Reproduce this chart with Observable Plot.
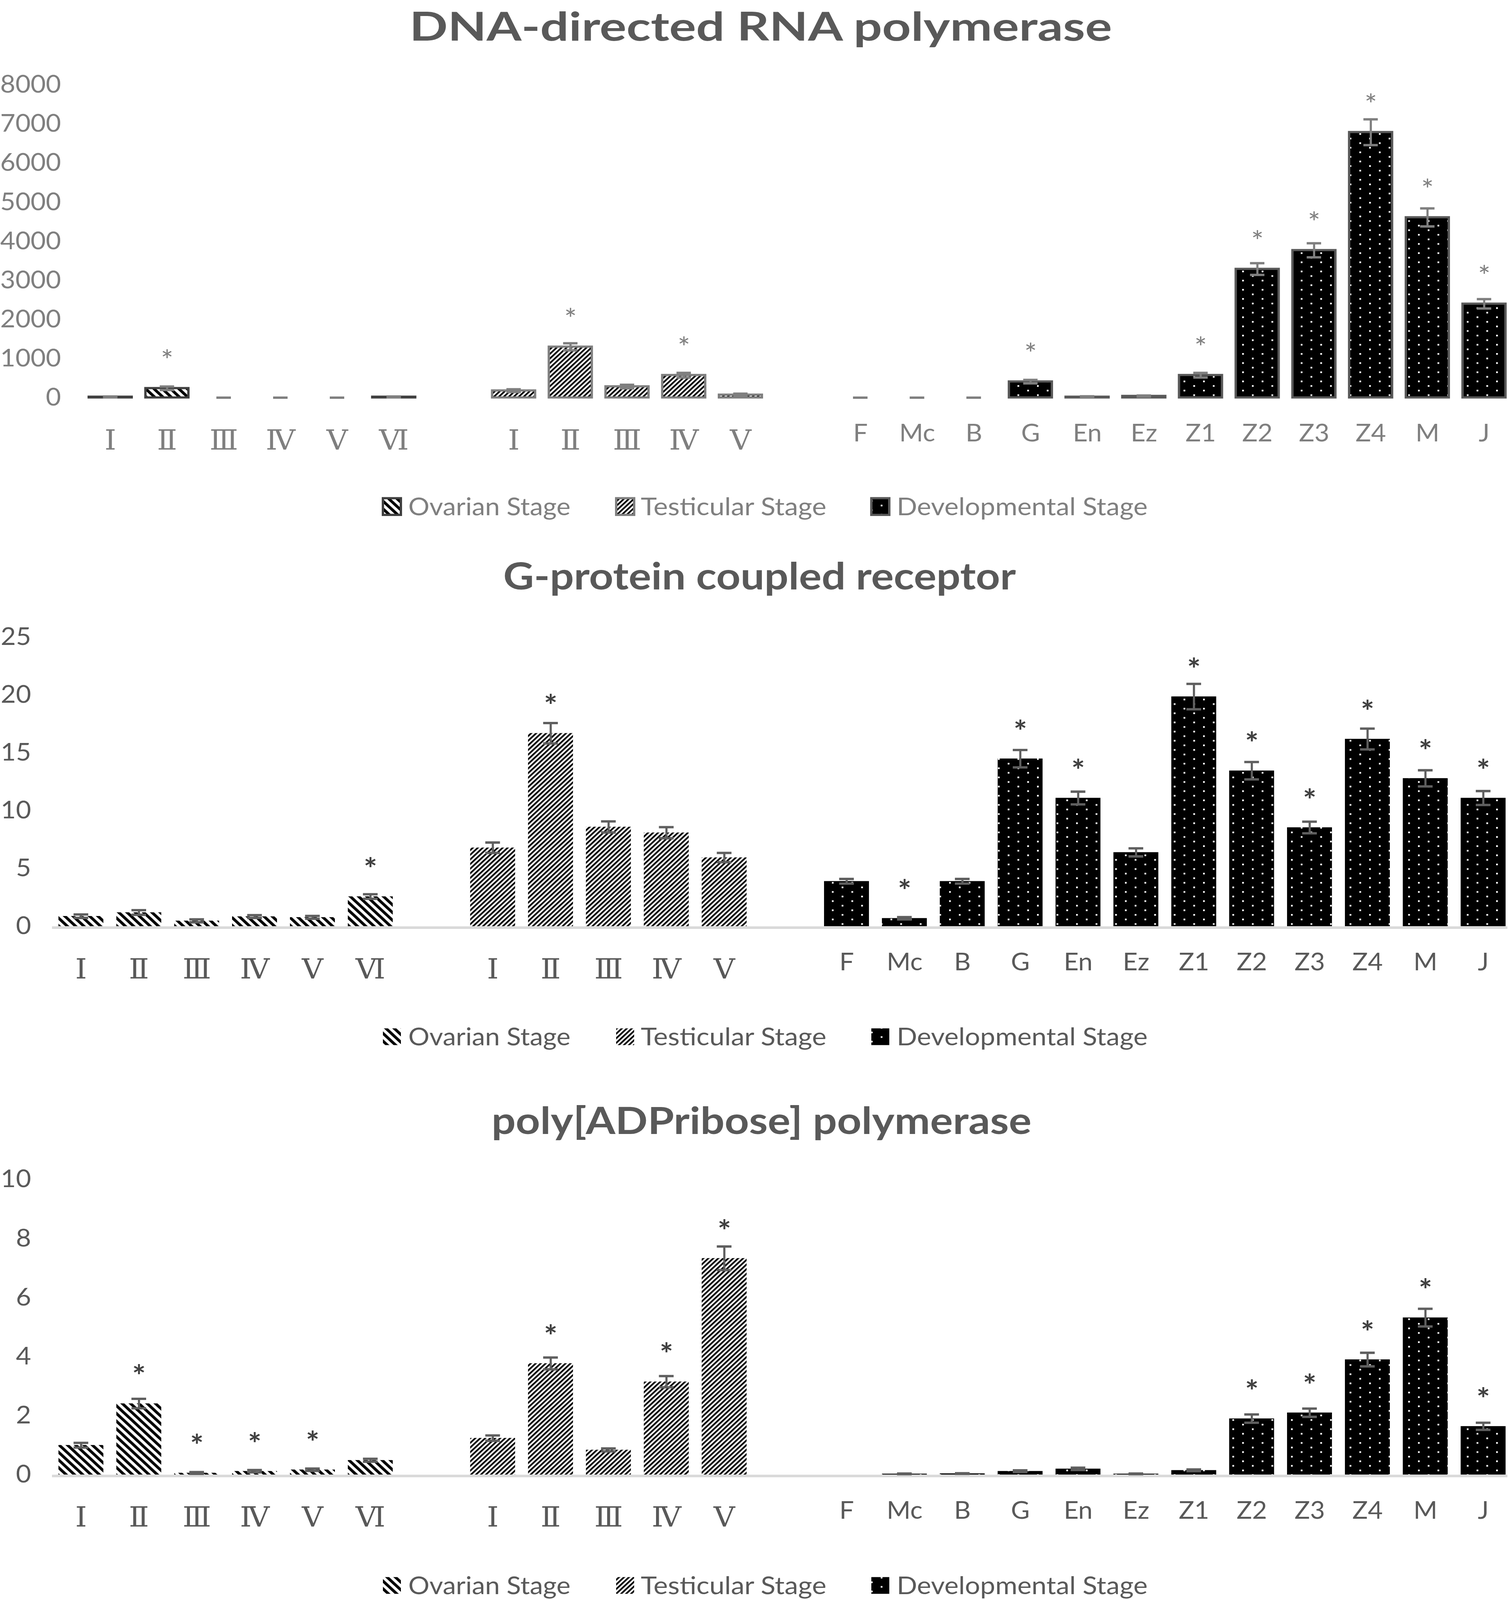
<!DOCTYPE html>
<html>
<head>
<meta charset="utf-8">
<script src="https://cdn.jsdelivr.net/npm/d3@7"></script>
<script src="https://cdn.jsdelivr.net/npm/@observablehq/plot@0.6"></script>
<style>
  html, body { margin: 0; padding: 0; background: #fff; overflow: hidden; }
  #wrap { position: relative; width: 3862px; overflow: hidden; background: #fff; }
  #page { position: relative; width: 3862px; height: 4400px; background: #fff; overflow: hidden; transform-origin: 0 0; }
</style>
</head>
<body>
<div id="wrap"><div id="page"></div></div>
<script>
// ---------------- DATA ----------------
const ovarianStages = ["Ⅰ", "Ⅱ", "Ⅲ", "Ⅳ", "Ⅴ", "Ⅵ"];
const testicularStages = ["Ⅰ", "Ⅱ", "Ⅲ", "Ⅳ", "Ⅴ"];
const developmentalStages = ["F", "Mc", "B", "G", "En", "Ez", "Z1", "Z2", "Z3", "Z4", "M", "J"];
const seriesNames = ["Ovarian Stage", "Testicular Stage", "Developmental Stage"];

// Panel 1: DNA-directed RNA polymerase
const rnaTitle = "DNA-directed RNA polymerase";
const rnaTicks = [0, 1000, 2000, 3000, 4000, 5000, 6000, 7000, 8000];
const rnaOvarian = [20, 240, 0, 0, 0, 20];
const rnaOvarianErr = [10, 45, 0, 0, 0, 10];
const rnaOvarianStar = ["", "*", "", "", "", ""];
const rnaTesticular = [180, 1300, 285, 575, 72];
const rnaTesticularErr = [35, 90, 45, 60, 30];
const rnaTesticularStar = ["", "*", "", "*", ""];
const rnaDevelopmental = [0, 0, 0, 410, 20, 40, 575, 3290, 3770, 6790, 4610, 2400];
const rnaDevelopmentalErr = [0, 0, 0, 45, 15, 15, 60, 150, 180, 330, 230, 120];
const rnaDevelopmentalStar = ["", "", "", "*", "", "", "*", "*", "*", "*", "*", "*"];

// Panel 2: G-protein coupled receptor
const gpcrTitle = "G-protein coupled receptor";
const gpcrTicks = [0, 5, 10, 15, 20, 25];
const gpcrOvarian = [0.88, 1.2, 0.48, 0.85, 0.78, 2.58];
const gpcrOvarianErr = [0.15, 0.2, 0.13, 0.12, 0.12, 0.2];
const gpcrOvarianStar = ["", "", "", "", "", "*"];
const gpcrTesticular = [6.8, 16.7, 8.6, 8.1, 5.95];
const gpcrTesticularErr = [0.45, 0.88, 0.48, 0.48, 0.4];
const gpcrTesticularStar = ["", "*", "", "", ""];
const gpcrDevelopmental = [3.9, 0.7, 3.9, 14.5, 11.1, 6.4, 19.87, 13.46, 8.55, 16.2, 12.8, 11.1];
const gpcrDevelopmentalErr = [0.2, 0.1, 0.2, 0.75, 0.55, 0.35, 1.1, 0.75, 0.5, 0.9, 0.7, 0.6];
const gpcrDevelopmentalStar = ["", "*", "", "*", "*", "", "*", "*", "*", "*", "*", "*"];

// Panel 3: poly[ADPribose] polymerase
const parpTitle = "poly[ADPribose] polymerase";
const parpTicks = [0, 2, 4, 6, 8, 10];
const parpOvarian = [1.0, 2.41, 0.06, 0.12, 0.17, 0.49];
const parpOvarianErr = [0.08, 0.16, 0.03, 0.04, 0.04, 0.05];
const parpOvarianStar = ["", "*", "*", "*", "*", ""];
const parpTesticular = [1.24, 3.77, 0.84, 3.15, 7.33];
const parpTesticularErr = [0.09, 0.2, 0.05, 0.19, 0.4];
const parpTesticularStar = ["", "*", "", "*", "*"];
const parpDevelopmental = [0, 0.03, 0.04, 0.12, 0.2, 0.03, 0.15, 1.9, 2.1, 3.9, 5.32, 1.64];
const parpDevelopmentalErr = [null, 0.01, 0.01, 0.03, 0.04, 0.01, 0.03, 0.14, 0.14, 0.23, 0.3, 0.12];
const parpDevelopmentalStar = ["", "", "", "", "", "", "", "*", "*", "*", "*", "*"];

// ---------------- LAYOUT ----------------
const W = 3862, H = 4400;
// fit the whole figure into the visible window height if the window is shorter than the figure
const VIEW_H = window.innerHeight || H;
const FIT = Math.min(1, VIEW_H / H);
document.getElementById("wrap").style.height = (H * FIT) + "px";
document.getElementById("page").style.transform = `scaleY(${FIT})`;

const GAP = 2.114; // distance (in bar slots) between the last bar of one group and the first of the next
const groupLabels = [ovarianStages, testicularStages, developmentalStages];
const groupOffsets = [
  0,
  (ovarianStages.length - 1) + GAP,
  (ovarianStages.length - 1) + GAP + (testicularStages.length - 1) + GAP
];
const X_DOMAIN = [-0.5, groupOffsets[2] + developmentalStages.length - 1 + 0.42];
const ROMAN_FONT = "'DejaVu Serif', 'Liberation Serif', serif";

const page = d3.select("#page");
const overlay = page.append("svg")
  .attr("width", W).attr("height", H)
  .style("position", "absolute").style("left", "0px").style("top", "0px");
const defs = overlay.append("defs");

function stripePattern(id, angle, period, band) {
  const p = defs.append("pattern").attr("id", id)
    .attr("patternUnits", "userSpaceOnUse")
    .attr("width", period).attr("height", period)
    .attr("patternTransform", `rotate(${angle})`);
  p.append("rect").attr("width", period).attr("height", period).attr("fill", "#fff");
  p.append("rect").attr("width", band).attr("height", period).attr("fill", "#000");
}
stripePattern("pat-ov", -45, 15, 7.5);
stripePattern("pat-te", 45, 9, 4.5);
{
  const p = defs.append("pattern").attr("id", "pat-dev")
    .attr("patternUnits", "userSpaceOnUse").attr("width", 50).attr("height", 25.2);
  p.append("rect").attr("width", 50).attr("height", 25.2).attr("fill", "#000");
  p.append("rect").attr("x", 4).attr("y", 2).attr("width", 4.5).attr("height", 4.5).attr("fill", "#fff");
  p.append("rect").attr("x", 29).attr("y", 14.6).attr("width", 4.5).attr("height", 4.5).attr("fill", "#fff");
}
const patterns = ["url(#pat-ov)", "url(#pat-te)", "url(#pat-dev)"];

function buildRows(groups) {
  const rows = [];
  groups.forEach((g, gi) => {
    g.values.forEach((v, i) => {
      rows.push({
        group: gi,
        label: groupLabels[gi][i],
        pos: groupOffsets[gi] + i,
        value: v,
        err: g.err[i],
        star: g.star[i]
      });
    });
  });
  return rows;
}

function drawPanel(cfg) {
  const rows = buildRows(cfg.groups);
  const labelByPos = new Map(rows.map(d => [d.pos, d.label]));
  const romanPos = rows.filter(d => d.group < 2).map(d => d.pos);
  const devPos = rows.filter(d => d.group === 2).map(d => d.pos);
  const withErr = rows.filter(d => d.err != null);
  const cap = 0.127;
  const marks = [];
  if (cfg.baseline) {
    marks.push(Plot.ruleY([0], {stroke: "#d9d9d9", strokeWidth: 7, dy: 3.5}));
  }
  [0, 1, 2].forEach(g => {
    marks.push(Plot.rectY(rows.filter(d => d.group === g && d.value > 0), {
      x1: d => d.pos - cfg.half,
      x2: d => d.pos + cfg.half,
      y1: 0,
      y2: "value",
      fill: patterns[g],
      stroke: cfg.outlines ? cfg.outlines[g] : "none",
      strokeWidth: cfg.outlines ? 6 : 0
    }));
  });
  marks.push(Plot.ruleX(withErr, {
    x: "pos",
    y1: d => Math.max(0, d.value - d.err),
    y2: d => d.value + d.err,
    stroke: cfg.errColor, strokeWidth: 5.5
  }));
  marks.push(Plot.ruleY(withErr, {
    y: d => d.value + d.err,
    x1: d => d.pos - cap, x2: d => d.pos + cap,
    stroke: cfg.errColor, strokeWidth: 6.5
  }));
  marks.push(Plot.ruleY(withErr, {
    y: d => Math.max(0, d.value - d.err),
    x1: d => d.pos - cap, x2: d => d.pos + cap,
    stroke: cfg.errColor, strokeWidth: 6.5
  }));
  marks.push(Plot.text(rows.filter(d => d.star), {
    x: "pos", y: "value", text: "star",
    lineAnchor: "bottom", dy: -92 + 0.5625 * cfg.starSize,
    fontSize: cfg.starSize, fontFamily: "Lato, sans-serif", fontWeight: cfg.starWeight,
    fill: cfg.starColor
  }));
  marks.push(Plot.axisY({
    ticks: cfg.ticks, tickSize: 0, tickPadding: 54, label: null,
    tickFormat: d => `${d}`, fontSize: 67, color: cfg.textColor
  }));
  marks.push(Plot.axisX({
    ticks: romanPos, tickSize: 0, tickPadding: 89, label: null,
    tickFormat: p => labelByPos.get(p),
    fontSize: 76, fontFamily: ROMAN_FONT,
    color: cfg.textColor
  }));
  marks.push(Plot.axisX({
    ticks: devPos, tickSize: 0, tickPadding: 74, label: null,
    tickFormat: p => labelByPos.get(p),
    fontSize: 66, color: cfg.textColor
  }));

  const chart = Plot.plot({
    width: W,
    height: cfg.height,
    marginLeft: cfg.ml, marginRight: cfg.mr, marginTop: cfg.mt, marginBottom: cfg.mb,
    x: {type: "linear", domain: X_DOMAIN, label: null},
    y: {domain: [0, cfg.ticks[cfg.ticks.length - 1]], label: null},
    style: {fontFamily: "Lato, sans-serif", fontSize: "67px", color: cfg.textColor, background: "transparent", overflow: "visible"},
    marks
  });
  d3.select(chart).selectAll("text")
    .filter(function() { return /^[\u2160-\u216B]$/.test(this.textContent); })
    .style("font-family", ROMAN_FONT);
  chart.style.position = "absolute";
  chart.style.left = "0px";
  chart.style.top = cfg.top + "px";
  page.node().appendChild(chart);

  // title
  overlay.append("text")
    .attr("x", cfg.titleX).attr("y", cfg.titleY)
    .attr("text-anchor", "middle")
    .attr("font-family", "Lato, sans-serif").attr("font-weight", 700)
    .attr("font-size", cfg.titleSize).attr("fill", "#595959")
    .attr("textLength", cfg.titleW).attr("lengthAdjust", "spacingAndGlyphs")
    .text(cfg.title);

  // legend
  const swX = [980, 1577, 2230];
  const txX = [1045, 1640, 2295];
  const txW = [415, 475, 642];
  seriesNames.forEach((name, i) => {
    overlay.append("rect")
      .attr("x", swX[i]).attr("y", cfg.legendY - 23).attr("width", 46).attr("height", 46)
      .attr("fill", patterns[i])
      .attr("stroke", cfg.outlines ? cfg.outlines[i] : "none")
      .attr("stroke-width", cfg.outlines ? 6 : 0);
    overlay.append("text")
      .attr("x", txX[i]).attr("y", cfg.legendY + 24)
      .attr("font-family", "Lato, sans-serif").attr("font-size", 66)
      .attr("fill", cfg.textColor)
      .attr("textLength", txW[i]).attr("lengthAdjust", "spacingAndGlyphs")
      .text(name);
  });
}

drawPanel({
  title: rnaTitle, titleX: 1947, titleY: 112, titleSize: 110, titleW: 1798,
  top: 150, height: 1130, mt: 83, mb: 187, ml: 209.5, mr: 3,
  half: 0.379, ticks: rnaTicks,
  groups: [
    {values: rnaOvarian, err: rnaOvarianErr, star: rnaOvarianStar},
    {values: rnaTesticular, err: rnaTesticularErr, star: rnaTesticularStar},
    {values: rnaDevelopmental, err: rnaDevelopmentalErr, star: rnaDevelopmentalStar}
  ],
  outlines: ["#404040", "#7f7f7f", "#595959"],
  baseline: false,
  errColor: "#7f7f7f", starColor: "#7f7f7f", textColor: "#7f7f7f", starSize: 76, starWeight: 400,
  legendY: 1393
});

drawPanel({
  title: gpcrTitle, titleX: 1944, titleY: 1621, titleSize: 103, titleW: 1312,
  top: 1680, height: 1060, mt: 72, mb: 193, ml: 133, mr: 4,
  half: 0.388, ticks: gpcrTicks,
  groups: [
    {values: gpcrOvarian, err: gpcrOvarianErr, star: gpcrOvarianStar},
    {values: gpcrTesticular, err: gpcrTesticularErr, star: gpcrTesticularStar},
    {values: gpcrDevelopmental, err: gpcrDevelopmentalErr, star: gpcrDevelopmentalStar}
  ],
  outlines: null,
  baseline: true,
  errColor: "#5f5f5f", starColor: "#404040", textColor: "#595959", starSize: 82, starWeight: 700,
  legendY: 2851
});

drawPanel({
  title: parpTitle, titleX: 1949, titleY: 3118, titleSize: 103, titleW: 1382,
  top: 3170, height: 1075, mt: 73, mb: 190, ml: 133, mr: 4,
  half: 0.388, ticks: parpTicks,
  groups: [
    {values: parpOvarian, err: parpOvarianErr, star: parpOvarianStar},
    {values: parpTesticular, err: parpTesticularErr, star: parpTesticularStar},
    {values: parpDevelopmental, err: parpDevelopmentalErr, star: parpDevelopmentalStar}
  ],
  outlines: null,
  baseline: true,
  errColor: "#5f5f5f", starColor: "#404040", textColor: "#595959", starSize: 82, starWeight: 700,
  legendY: 4360
});
</script>
</body>
</html>
